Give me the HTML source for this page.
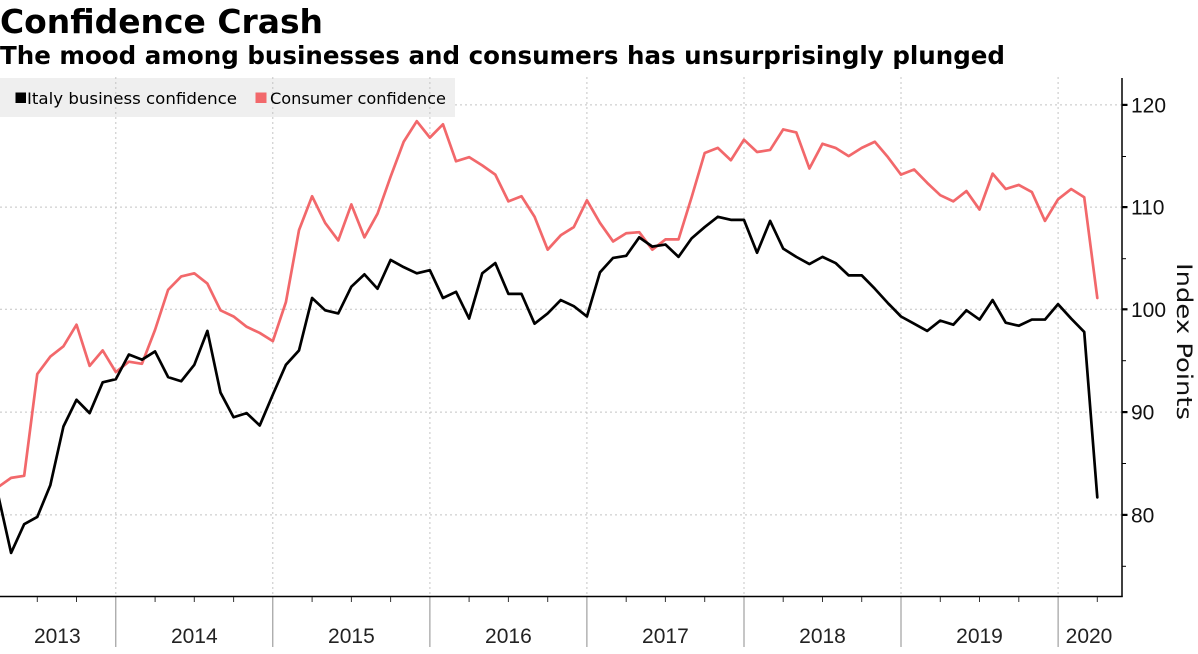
<!DOCTYPE html>
<html>
<head>
<meta charset="utf-8">
<style>
  html,body{margin:0;padding:0;background:#fff;}
  svg{display:block;}
</style>
</head>
<body>
<svg width="1198" height="654" viewBox="0 0 1198 654" xmlns="http://www.w3.org/2000/svg">
  <rect x="0" y="0" width="1198" height="654" fill="#ffffff"/>

  <!-- Title & subtitle -->
  <text x="0" y="33" font-family="'DejaVu Sans','Liberation Sans',sans-serif" font-weight="bold" font-size="32.5" textLength="323" lengthAdjust="spacingAndGlyphs" fill="#000">Confidence Crash</text>
  <text x="0" y="64" font-family="'DejaVu Sans','Liberation Sans',sans-serif" font-weight="bold" font-size="24.5" textLength="1005" lengthAdjust="spacingAndGlyphs" fill="#000">The mood among businesses and consumers has unsurprisingly plunged</text>

  <!-- horizontal gridlines -->
  <g stroke="#c4c4c4" stroke-width="1" stroke-dasharray="2 3">
    <line x1="0" y1="104.9" x2="1121" y2="104.9"/>
    <line x1="0" y1="207.1" x2="1121" y2="207.1"/>
    <line x1="0" y1="309.3" x2="1121" y2="309.3"/>
    <line x1="0" y1="412.1" x2="1121" y2="412.1"/>
    <line x1="0" y1="514.9" x2="1121" y2="514.9"/>
  </g>

  <!-- legend background -->
  <rect x="0" y="78" width="455" height="39" fill="#efefef"/>

  <!-- vertical gridlines (year separators) -->
  <g stroke="#c4c4c4" stroke-width="1" stroke-dasharray="2 3">
    <line x1="115.8" y1="77" x2="115.8" y2="596"/>
    <line x1="272.8" y1="77" x2="272.8" y2="596"/>
    <line x1="429.9" y1="77" x2="429.9" y2="596"/>
    <line x1="586.9" y1="77" x2="586.9" y2="596"/>
    <line x1="744.0" y1="77" x2="744.0" y2="596"/>
    <line x1="901.0" y1="77" x2="901.0" y2="596"/>
    <line x1="1058.1" y1="77" x2="1058.1" y2="596"/>
  </g>
  <!-- year separators below axis -->
  <g stroke="#8c8c8c" stroke-width="1">
    <line x1="115.8" y1="597" x2="115.8" y2="647"/>
    <line x1="272.8" y1="597" x2="272.8" y2="647"/>
    <line x1="429.9" y1="597" x2="429.9" y2="647"/>
    <line x1="586.9" y1="597" x2="586.9" y2="647"/>
    <line x1="744.0" y1="597" x2="744.0" y2="647"/>
    <line x1="901.0" y1="597" x2="901.0" y2="647"/>
    <line x1="1058.1" y1="597" x2="1058.1" y2="647"/>
  </g>

  <!-- legend -->
  <rect x="15.5" y="92.5" width="10.5" height="10.5" fill="#000"/>
  <text x="27" y="104" font-family="'DejaVu Sans','Liberation Sans',sans-serif" font-size="16" textLength="210" lengthAdjust="spacingAndGlyphs" fill="#000">Italy business confidence</text>
  <rect x="255.5" y="92.5" width="11" height="10.5" fill="#f2686b"/>
  <text x="270" y="104" font-family="'DejaVu Sans','Liberation Sans',sans-serif" font-size="16" textLength="176" lengthAdjust="spacingAndGlyphs" fill="#000">Consumer confidence</text>

  <!-- data series -->
  <g transform="translate(-2,1337.3) scale(13.087,-10.28)" fill="none" stroke-linejoin="round" stroke-linecap="round">
    <polyline vector-effect="non-scaling-stroke" stroke="#f2686b" stroke-width="2.7" points="0,82.7 1,83.6 2,83.8 3,93.7 4,95.4 5,96.4 6,98.5 7,94.5 8,96 9,93.9 10,94.9 11,94.7 12,98 13,101.9 14,103.2 15,103.5 16,102.5 17,99.9 18,99.3 19,98.3 20,97.7 21,96.9 22,100.7 23,107.7 24,111 25,108.4 26,106.7 27,110.2 28,107 29,109.3 30,112.9 31,116.3 32,118.3 33,116.7 34,118 35,114.4 36,114.8 37,114 38,113.1 39,110.5 40,111 41,109 42,105.8 43,107.2 44,108 45,110.6 46,108.4 47,106.6 48,107.4 49,107.5 50,105.8 51,106.8 52,106.8 53,110.9 54,115.2 55,115.7 56,114.5 57,116.5 58,115.3 59,115.5 60,117.5 61,117.2 62,113.7 63,116.1 64,115.7 65,114.9 66,115.7 67,116.3 68,114.8 69,113.1 70,113.6 71,112.3 72,111.1 73,110.5 74,111.5 75,109.7 76,113.2 77,111.7 78,112.1 79,111.4 80,108.6 81,110.7 82,111.7 83,110.9 84,101.1"/>
    <polyline vector-effect="non-scaling-stroke" stroke="#000000" stroke-width="2.7" points="0,82 1,76.3 2,79.1 3,79.8 4,82.9 5,88.6 6,91.2 7,89.9 8,92.9 9,93.2 10,95.6 11,95.1 12,95.9 13,93.4 14,93 15,94.6 16,97.9 17,91.9 18,89.5 19,89.9 20,88.7 21,91.7 22,94.6 23,96 24,101.1 25,99.9 26,99.6 27,102.2 28,103.4 29,102 30,104.8 31,104.1 32,103.5 33,103.8 34,101.1 35,101.7 36,99.1 37,103.5 38,104.5 39,101.5 40,101.5 41,98.6 42,99.6 43,100.9 44,100.3 45,99.3 46,103.6 47,105 48,105.2 49,107 50,106.1 51,106.3 52,105.1 53,106.9 54,108 55,109 56,108.7 57,108.7 58,105.5 59,108.6 60,105.9 61,105.1 62,104.4 63,105.1 64,104.5 65,103.3 66,103.3 67,102 68,100.6 69,99.3 70,98.6 71,97.9 72,98.9 73,98.5 74,99.9 75,99 76,100.9 77,98.7 78,98.4 79,99 80,99 81,100.5 82,99.1 83,97.8 84,81.7"/>
  </g>

  <!-- axes -->
  <line x1="1122" y1="78" x2="1122" y2="597" stroke="#000" stroke-width="1.5"/>
  <line x1="0" y1="596.5" x2="1122.7" y2="596.5" stroke="#000" stroke-width="1.5"/>

  <!-- y ticks -->
  <g stroke="#000" stroke-width="1.5">
    <line x1="1122" y1="104.9" x2="1127.5" y2="104.9" stroke-width="2.2"/>
    <line x1="1122" y1="207.1" x2="1127.5" y2="207.1" stroke-width="2.2"/>
    <line x1="1122" y1="309.3" x2="1127.5" y2="309.3" stroke-width="2.2"/>
    <line x1="1122" y1="412.1" x2="1127.5" y2="412.1" stroke-width="2.2"/>
    <line x1="1122" y1="514.9" x2="1127.5" y2="514.9" stroke-width="2.2"/>
    <line x1="1122" y1="156.5" x2="1126" y2="156.5" stroke-width="1"/>
    <line x1="1122" y1="258.7" x2="1126" y2="258.7" stroke-width="1"/>
    <line x1="1122" y1="360.7" x2="1126" y2="360.7" stroke-width="1"/>
    <line x1="1122" y1="463.5" x2="1126" y2="463.5" stroke-width="1"/>
    <line x1="1122" y1="566.3" x2="1126" y2="566.3" stroke-width="1"/>
  </g>

  <!-- y labels -->
  <g font-family="'Liberation Sans',sans-serif" font-size="21" fill="#111">
    <text x="1131" y="112.5">120</text>
    <text x="1131" y="214.7">110</text>
    <text x="1131" y="316.9">100</text>
    <text x="1131" y="419.7">90</text>
    <text x="1131" y="522.5">80</text>
  </g>

  <!-- axis title -->
  <text transform="translate(1177,263) rotate(90)" font-family="'DejaVu Sans','Liberation Sans',sans-serif" font-size="21" textLength="157" lengthAdjust="spacingAndGlyphs" fill="#111">Index Points</text>

  <!-- x quarter ticks -->
  <g stroke="#333" stroke-width="1">
    <line x1="37.3" y1="597" x2="37.3" y2="602"/>
    <line x1="76.5" y1="597" x2="76.5" y2="602"/>
    <line x1="155.1" y1="597" x2="155.1" y2="602"/>
    <line x1="194.3" y1="597" x2="194.3" y2="602"/>
    <line x1="233.6" y1="597" x2="233.6" y2="602"/>
    <line x1="312.1" y1="597" x2="312.1" y2="602"/>
    <line x1="351.4" y1="597" x2="351.4" y2="602"/>
    <line x1="390.6" y1="597" x2="390.6" y2="602"/>
    <line x1="469.1" y1="597" x2="469.1" y2="602"/>
    <line x1="508.4" y1="597" x2="508.4" y2="602"/>
    <line x1="547.7" y1="597" x2="547.7" y2="602"/>
    <line x1="626.2" y1="597" x2="626.2" y2="602"/>
    <line x1="665.4" y1="597" x2="665.4" y2="602"/>
    <line x1="704.7" y1="597" x2="704.7" y2="602"/>
    <line x1="783.2" y1="597" x2="783.2" y2="602"/>
    <line x1="822.5" y1="597" x2="822.5" y2="602"/>
    <line x1="861.7" y1="597" x2="861.7" y2="602"/>
    <line x1="940.3" y1="597" x2="940.3" y2="602"/>
    <line x1="979.5" y1="597" x2="979.5" y2="602"/>
    <line x1="1018.8" y1="597" x2="1018.8" y2="602"/>
    <line x1="1097.3" y1="597" x2="1097.3" y2="602"/>
  </g>

  <!-- year labels -->
  <g font-family="'Liberation Sans',sans-serif" font-size="21" fill="#222" text-anchor="middle">
    <text x="57.3" y="643">2013</text>
    <text x="194.3" y="643">2014</text>
    <text x="351.4" y="643">2015</text>
    <text x="508.4" y="643">2016</text>
    <text x="665.4" y="643">2017</text>
    <text x="822.5" y="643">2018</text>
    <text x="979.5" y="643">2019</text>
    <text x="1089" y="643">2020</text>
  </g>
</svg>
</body>
</html>
